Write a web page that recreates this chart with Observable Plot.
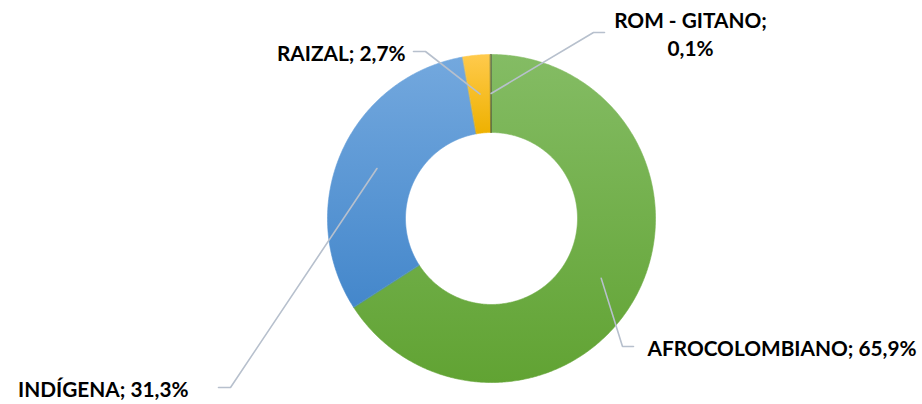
<!DOCTYPE html>
<html><head><meta charset="utf-8">
<script src="https://cdn.jsdelivr.net/npm/d3@7"></script>
<script src="https://cdn.jsdelivr.net/npm/@observablehq/plot@0.6"></script>
<style>html,body{margin:0;padding:0;background:#fff;overflow:hidden}</style>
</head><body><div id="chart"></div>
<script>
// ---- data ----
const categories = ["AFROCOLOMBIANO", "INDÍGENA", "RAIZAL", "ROM - GITANO"];
const values = [65.9, 31.3, 2.7, 0.1];
const valueLabels = ["65,9%", "31,3%", "2,7%", "0,1%"];

// ---- styling / layout (not data) ----
const gradientStops = [
  ["#84bc64", "#61a333"],
  ["#73a8de", "#4487cb"],
  ["#ffca4c", "#eeb100"],
  ["#5a6e45", "#4d6239"]
];
const W = 922, H = 404, CX = 491, CY = 218, R_OUT = 164, R_IN = 86, R_LEADER = 125;
// annotation layout in pixel coords: elbow, end of leader, text position, anchor
const labelLayout = [
  {elbow: [622, 346], end: [633, 346], text: [647, 347], anchor: "start"},
  {elbow: [230, 387], end: [218, 387], text: [188, 388], anchor: "end"},
  {elbow: [425, 51],  end: [413, 51],  text: [405, 52],  anchor: "end"},
  {elbow: [593, 32],  end: [604, 32],  text: [690, 33],  anchor: "middle"}
];
const px = (x) => x - CX;     // pixel -> data x
const py = (y) => CY - y;     // pixel -> data y (up)

// ---- slices ----
const total = d3.sum(values);
let acc = 0;
const slices = categories.map((c, i) => {
  const a0 = acc / total * 2 * Math.PI;
  acc += values[i];
  const a1 = acc / total * 2 * Math.PI;
  return {cat: c, a0, a1, mid: (a0 + a1) / 2};
});
const polyPts = [];
for (const s of slices) {
  const n = Math.max(2, Math.ceil((s.a1 - s.a0) / (Math.PI / 360)));
  for (let k = 0; k <= n; k++) {
    const a = s.a0 + (s.a1 - s.a0) * k / n;
    polyPts.push({cat: s.cat, x: R_OUT * Math.sin(a), y: R_OUT * Math.cos(a)});
  }
  for (let k = n; k >= 0; k--) {
    const a = s.a0 + (s.a1 - s.a0) * k / n;
    polyPts.push({cat: s.cat, x: R_IN * Math.sin(a), y: R_IN * Math.cos(a)});
  }
}

// ---- leaders ----
const leaderPts = [];
slices.forEach((s, i) => {
  const L = labelLayout[i];
  leaderPts.push({cat: s.cat, x: R_LEADER * Math.sin(s.mid), y: R_LEADER * Math.cos(s.mid)});
  leaderPts.push({cat: s.cat, x: px(L.elbow[0]), y: py(L.elbow[1])});
  leaderPts.push({cat: s.cat, x: px(L.end[0]), y: py(L.end[1])});
});

const labels = categories.map((c, i) => ({
  cat: c,
  text: c === "ROM - GITANO" ? `${c};\n${valueLabels[i]}` : `${c}; ${valueLabels[i]}`,
  x: px(labelLayout[i].text[0]),
  y: py(labelLayout[i].text[1]),
  anchor: labelLayout[i].anchor
}));

const textOpts = {x: "x", y: "y", text: "text", fontFamily: "Lato, 'Open Sans', sans-serif",
  fontWeight: 700, fontSize: 20.8, fill: "#000", lineHeight: 1.34};

const chart = Plot.plot({
  width: W, height: H, margin: 0,
  x: {domain: [px(0), px(W)], axis: null},
  y: {domain: [py(H), py(0)], axis: null},
  color: {domain: categories, range: categories.map((c, i) => `url(#grad${i})`)},
  marks: [
    Plot.line(polyPts, {x: "x", y: "y", z: "cat", fill: "cat", stroke: "cat", strokeWidth: 0.6, curve: "linear-closed"}),
    Plot.line(leaderPts, {x: "x", y: "y", z: "cat", stroke: "#b7c0cd", strokeWidth: 1.6, strokeLinejoin: "miter"}),
    Plot.text(labels.filter(d => d.anchor === "start"), {...textOpts, textAnchor: "start"}),
    Plot.text(labels.filter(d => d.anchor === "end"), {...textOpts, textAnchor: "end"}),
    Plot.text(labels.filter(d => d.anchor === "middle"), {...textOpts, textAnchor: "middle"})
  ]
});

const defs = d3.select(chart).insert("defs", ":first-child");
gradientStops.forEach((g, i) => {
  const lg = defs.append("linearGradient").attr("id", `grad${i}`)
    .attr("x1", 0).attr("y1", 0).attr("x2", 0).attr("y2", 1);
  lg.append("stop").attr("offset", "0%").attr("stop-color", g[0]);
  lg.append("stop").attr("offset", "100%").attr("stop-color", g[1]);
});
document.getElementById("chart").appendChild(chart);
</script>
</body></html>
